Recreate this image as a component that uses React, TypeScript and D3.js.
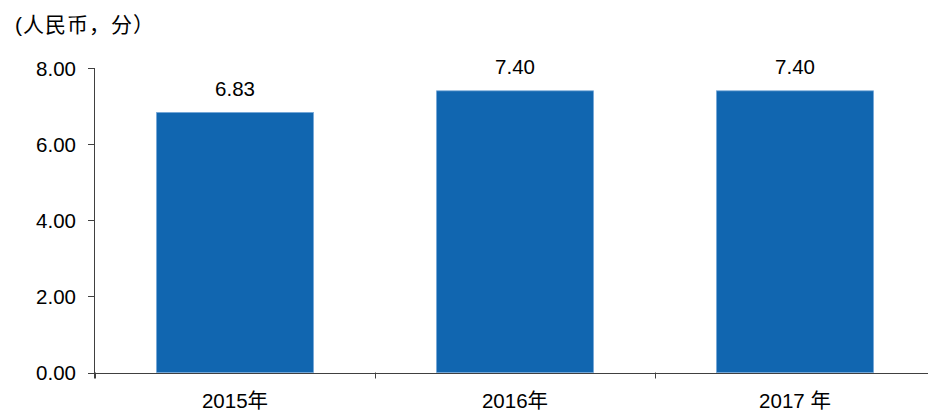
import React, { useEffect } from 'react';
import * as d3 from 'd3';

// 数据
const years = ['2015年', '2016年', '2017 年'];
const values = [6.83, 7.4, 7.4];
const yTicks = [0, 2, 4, 6, 8];

const W = 928;
const H = 413;
const FONT = '"Liberation Sans", Arial, "Noto Sans CJK SC", sans-serif';
const FS = 20.5;

const App: React.FC = () => {
  useEffect(() => {
    document.body.style.margin = '0';
  }, []);

  const x = d3.scaleBand<string>()
    .domain(years)
    .range([95, 935])
    .paddingInner(0.44)
    .paddingOuter(0.22);
  const y = d3.scaleLinear().domain([0, 8]).range([372.5, 68]);

  // 类目边界（刻度线位置）
  const step = x.step();
  const bounds = years.map((_, i) => 95 + step * i).concat([95 + step * years.length]);

  return (
    <svg width={W} height={H} style={{ display: 'block', background: '#fff' }} fontFamily={FONT}>
      <text x={15} y={32} fontSize={21} letterSpacing={1} fill="#000">(人民币，分）</text>

      {/* 柱子 */}
      {years.map((yr, i) => (
        <g key={yr}>
          <rect
            x={x(yr)}
            y={y(values[i])}
            width={x.bandwidth()}
            height={y(0) - y(values[i])}
            fill="#1166B0"
            stroke="#6FA3D6"
            strokeWidth={0.8}
          />
          <text
            x={(x(yr) || 0) + x.bandwidth() / 2}
            y={y(values[i]) - 17}
            textAnchor="middle"
            fontSize={FS}
            fill="#000"
          >
            {values[i].toFixed(2)}
          </text>
          <text
            x={(x(yr) || 0) + x.bandwidth() / 2}
            y={408}
            textAnchor="middle"
            fontSize={FS}
            fill="#000"
          >
            {yr}
          </text>
        </g>
      ))}

      {/* Y轴 */}
      <line x1={94.5} x2={94.5} y1={y(8)} y2={y(0) + 6} stroke="#404040" strokeWidth={1} />
      {yTicks.map(t => (
        <g key={t}>
          <line x1={88} x2={94.5} y1={Math.round(y(t)) + 0.5} y2={Math.round(y(t)) + 0.5} stroke="#404040" />
          <text x={76} y={y(t) + 7.5} textAnchor="end" fontSize={FS} fill="#000">
            {t.toFixed(2)}
          </text>
        </g>
      ))}

      {/* X轴 */}
      <line x1={94.5} x2={W} y1={Math.round(y(0)) + 0.5} y2={Math.round(y(0)) + 0.5} stroke="#404040" />
      {bounds.map((b, i) => (
        <line key={i} x1={Math.round(b) + 0.5} x2={Math.round(b) + 0.5} y1={y(0)} y2={y(0) + 6} stroke="#404040" />
      ))}
    </svg>
  );
};

export default App;
